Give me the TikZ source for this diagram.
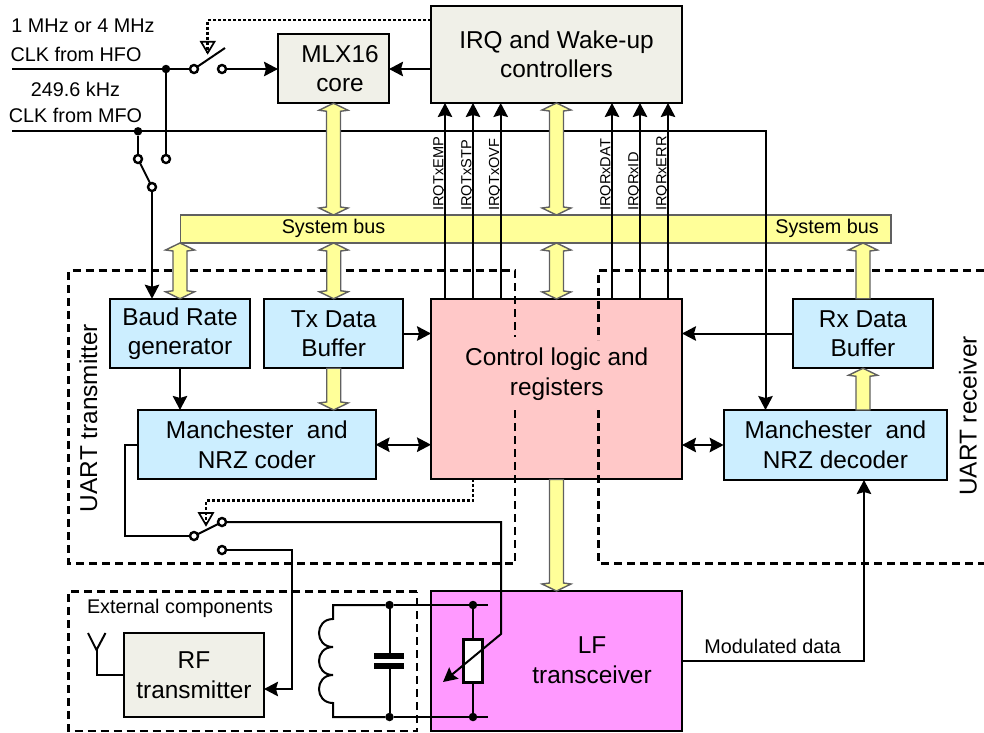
\documentclass[tikz,border=0pt]{standalone}
\usepackage{fontspec}
\setmainfont{Liberation Sans}
\usetikzlibrary{arrows.meta,calc}
\definecolor{boxgrey}{HTML}{F0F0E8}
\definecolor{boxblue}{HTML}{CCEEFF}
\definecolor{boxred}{HTML}{FFC8C8}
\definecolor{boxpink}{HTML}{FF99FF}
\definecolor{busyellow}{HTML}{FFFF99}
\definecolor{busedge}{HTML}{606060}
\tikzset{
  big/.style={font=\fontsize{24.4}{29.5}\selectfont,align=center},
  small/.style={font=\fontsize{19.8}{24}\selectfont},
  tiny/.style={font=\fontsize{14.6}{17}\selectfont},
  block/.style={draw=black,line width=2pt,inner sep=0pt,outer sep=0pt,rectangle,big},
  greybox/.style={block,fill=boxgrey},
  bluebox/.style={block,fill=boxblue},
  redbox/.style={block,fill=boxred},
  pinkbox/.style={block,fill=boxpink},
  wire/.style={draw=black,line width=2pt,line join=miter},
  arr/.style={wire,-{Stealth[length=14pt,width=14.5pt,inset=2pt]}},
  darr/.style={wire,{Stealth[length=14pt,width=14.5pt,inset=2pt]}-{Stealth[length=14pt,width=14.5pt,inset=2pt]}},
  contact/.style={circle,draw=black,fill=white,line width=2.4pt,minimum size=8pt,inner sep=0pt,outer sep=0pt},
  jdot/.style={circle,fill=black,minimum size=8.5pt,inner sep=0pt,outer sep=0pt},
  dotwire/.style={draw=black,line width=2.8pt,dash pattern=on 2.8pt off 2.2pt},
  dashwire/.style={draw=black,line width=2.8pt,dash pattern=on 8pt off 5pt},
  busfill/.style={draw=busedge,fill=busyellow,line width=1.4pt,line join=miter},
  irq/.style={tiny,rotate=90,anchor=base west,inner sep=0pt},
}
% yellow bus arrows: #1 top point, #2 bottom point
\newcommand\busboth[2]{\path[busfill] let \p1=#1, \p2=#2 in
  (\x1,\y1) -- ++(14.5pt,-7pt) -- ++(-7.5pt,-1pt) -- (\x2+7pt,\y2+8pt) -- (\x2+14.5pt,\y2+7pt) -- (\x2,\y2)
  -- (\x2-14.5pt,\y2+7pt) -- (\x2-7pt,\y2+8pt) -- (\x1-7pt,\y1-8pt) -- (\x1-14.5pt,\y1-7pt) -- cycle;}
\newcommand\busup[2]{\path[busfill] let \p1=#1, \p2=#2 in
  (\x1,\y1) -- ++(14.5pt,-7pt) -- ++(-7.5pt,-1pt) -- (\x2+7pt,\y2) -- (\x2-7pt,\y2) -- (\x1-7pt,\y1-8pt) -- (\x1-14.5pt,\y1-7pt) -- cycle;}
\newcommand\busdown[2]{\path[busfill] let \p1=#1, \p2=#2 in
  (\x1+7pt,\y1) -- (\x2+7pt,\y2+8pt) -- (\x2+14.5pt,\y2+7pt) -- (\x2,\y2) -- (\x2-14.5pt,\y2+7pt) -- (\x2-7pt,\y2+8pt) -- (\x1-7pt,\y1) -- cycle;}
\begin{document}
\begin{tikzpicture}[x=1pt,y=-1pt]
\useasboundingbox (0,0) rectangle (984,732);
% blocks
\node[greybox,minimum width=251pt,minimum height=97pt] (irqc) at (556.5,54.5) {IRQ and Wake-up\\controllers};
\node[greybox,minimum width=111pt,minimum height=69.5pt] (mlx) at (333.5,68.5) {};
\node[big] (mlxt) at (340,68.5) {MLX16\\core};
\node[draw=busedge,fill=busyellow,line width=1.4pt,inner sep=0pt,outer sep=0pt,minimum width=710.5pt,minimum height=28pt] (bus) at (535.75,229) {};
\node[small] (busa) at (333.5,228) {System bus};
\node[small] (busb) at (827,228) {System bus};
\node[bluebox,minimum width=140pt,minimum height=69.5pt] (baud) at (180,333.5) {Baud Rate\\generator};
\node[bluebox,minimum width=139.5pt,minimum height=69.5pt] (txb) at (333.7,333.5) {Tx Data\\Buffer};
\node[bluebox,minimum width=237.5pt,minimum height=69.5pt] (coder) at (256.8,444.7) {Manchester\ \ and\\NRZ coder};
\node[redbox,minimum width=251pt,minimum height=180.5pt] (ctrl) at (556.5,389.2) {};
\node[big] (ctrlt) at (556.7,374) {Control logic and\\registers};
\node[bluebox,minimum width=140pt,minimum height=69.5pt] (rxb) at (863,333.5) {Rx Data\\Buffer};
\node[bluebox,minimum width=223.5pt,minimum height=70pt] (dec) at (835.4,445) {Manchester\ \ and\\NRZ decoder};
\node[pinkbox,minimum width=251pt,minimum height=140pt] (lf) at (556.5,661) {};
\node[big] (lft) at (592,660) {LF\\transceiver};
\node[greybox,minimum width=140pt,minimum height=84pt] (rf) at (194,675) {RF\\transmitter};
\node[draw=black,fill=white,line width=3pt,inner sep=0pt,outer sep=0pt,minimum width=19pt,minimum height=43pt] (res) at (473,660.5) {};
% text labels
\node[small,anchor=base] (t1) at (83,32.7) {1 MHz or 4 MHz};
\node[small,anchor=base] (t2) at (76,61) {CLK from HFO};
\node[small,anchor=base] (t3) at (75.5,96) {249.6 kHz};
\node[small,anchor=base] (t4) at (75.5,122.7) {CLK from MFO};
\node[small,anchor=base] (t5) at (180,613) {External components};
\node[small,anchor=base] (t6) at (772.7,653) {Modulated data};
\node[big,rotate=90,anchor=base] (t7) at (97,418) {UART transmitter};
\node[big,rotate=90,anchor=base] (t8) at (976.7,416) {UART receiver};
\node[irq] (q1) at (443.3,211) {IRQTxEMP};
\node[irq] (q2) at (471.3,211) {IRQTxSTP};
\node[irq] (q3) at (499,211) {IRQTxOVF};
\node[irq] (q4) at (610.3,211) {IRQRxDAT};
\node[irq] (q5) at (638.3,211) {IRQRxID};
\node[irq] (q6) at (666.3,211) {IRQRxERR};
% switches and junctions
\node[jdot] (jhfo) at (166,69) {};
\node[jdot] (jmfo) at (138,131.3) {};
\node[contact] (s1a) at (194,69) {};
\node[contact] (s1b) at (222,69) {};
\node[contact] (s2a) at (138,159) {};
\node[contact] (s2b) at (166,159) {};
\node[contact] (s2c) at (152,187) {};
\node[contact] (s3a) at (194,536) {};
\node[contact] (s3b) at (222,522) {};
\node[contact] (s3c) at (222,550) {};
\coordinate (hfo) at (12,69);
\coordinate (mfo) at (12,131.3);
\coordinate (bladeA) at (225,48);
\coordinate (apexA) at (207.7,53);
\coordinate (apexB) at (206,525);
% dashed enclosures
\draw[dashwire] (515,410) -- (515,563.5) -- (68.5,563.5) -- (68.5,270.5) -- (515,270.5) -- (515,337);
\draw[dashwire] (984,270.5) -- (598.5,270.5) -- (598.5,340);
\draw[dashwire] (598.5,410) -- (598.5,563.5) -- (984,563.5);
\draw[dashwire] (417,591.5) -- (68.5,591.5) -- (68.5,731) -- (417,731) -- cycle;
% clock wires
\draw[wire] (hfo) -- (jhfo);
\draw[wire] (jhfo) -- (s1a);
\draw[wire] (s1a) -- (bladeA);
\draw[arr] (s1b) -- (mlx.west |- s1b);
\draw[wire] (jhfo) -- (s2b);
\draw[wire] (mfo) -- (jmfo);
\coordinate (dectop) at (765.5,410);
\draw[arr] (jmfo) -- (jmfo -| dectop) -- (dectop);
\draw[wire] (jmfo) -- (s2a);
\draw[wire] (s2a) -- (s2c);
\coordinate (baudin) at (152,298.7);
\draw[arr] (s2c) -- (baudin);
\draw[arr] (irqc.west |- s1b) -- (mlx.east |- s1b);
% IRQ lines
\foreach \xx in {445,473,500.7,612,640,668}{
  \draw[arr] (\xx,299) -- (\xx,103);
}
% dotted controls
\draw[dotwire] (irqc.west |- 0,20) -- (207.7,20) -- (apexA);
\draw[draw=black,line width=1.7pt,line join=miter] (201,41.7) -- (214.5,41.7) -- (apexA) -- cycle;
\draw[dotwire] (473,479) -- (473,500.5) -- (206,500.5) -- (apexB);
\draw[draw=black,line width=1.7pt,line join=miter] (199,513) -- (213,513) -- (apexB) -- cycle;
% block connectors
\draw[arr] (txb.east) -- (ctrl.west |- txb.east);
\draw[arr] (baud.south) -- (baud.south |- coder.north);
\draw[darr] (coder.east) -- (ctrl.west |- coder.east);
\draw[arr] (rxb.west) -- (ctrl.east |- rxb.west);
\draw[darr] (ctrl.east |- dec.west) -- (dec.west);
\coordinate (decin) at (864,480);
\draw[arr] (lf.east |- 0,661) -- (864,661) -- (decin);
\draw[wire] (coder.west) -- (125,444.7) -- (125,536) -- (s3a);
\draw[wire] (s3a) -- (s3b);
\draw[arr] (s3c) -- (292,550) -- (292,689) -- (rf.east |- 0,689);
% antenna
\draw[wire] (rf.west) -- (96.5,675) -- (96.5,650);
\draw[wire] (88,633) -- (96.5,650) -- (105.5,633);
% resonant circuit
\node[jdot] (ja) at (389.5,605) {};
\node[jdot] (jb) at (389.5,717) {};
\node[jdot] (jc) at (473,605) {};
\node[jdot] (jd) at (473,717) {};
\coordinate (rtop) at (488,605);
\coordinate (rbot) at (488,717);
\draw[wire] (ja) -- (jc);
\draw[wire] (jc) -- (rtop);
\draw[wire] (jb) -- (jd);
\draw[wire] (jd) -- (rbot);
\draw[wire] (jc) -- (res.north);
\draw[wire] (res.south) -- (jd);
\draw[wire] (ja) -- (333,605) -- (333,619)
  .. controls (314.3,619) and (314.3,647) .. (333,647)
  .. controls (314.3,647) and (314.3,675) .. (333,675)
  .. controls (314.3,675) and (314.3,703) .. (333,703)
  -- (333,717) -- (jb);
\coordinate (capa) at (389.5,656);
\coordinate (capb) at (389.5,666);
\draw[wire] (ja) -- (capa);
\draw[wire] (capb) -- (jb);
\draw[draw=black,line width=5.5pt] (374,656) -- (404,656);
\draw[draw=black,line width=5.5pt] (374,666) -- (404,666);
\coordinate (varend) at (443,682);
\draw[arr] (s3b) -- (501,522) -- (501,634) -- (varend);
% yellow bus arrows
\busboth{(mlx.south)}{(mlx.south |- bus.north)}
\busboth{(irqc.south)}{(irqc.south |- bus.north)}
\busboth{(ctrl.north |- bus.south)}{(ctrl.north)}
\busboth{(baud.north |- bus.south)}{(baud.north)}
\busboth{(txb.north |- bus.south)}{(txb.north)}
\busdown{(txb.south)}{(txb.south |- coder.north)}
\busdown{(ctrl.south)}{(lf.north)}
\busup{(rxb.north |- bus.south)}{(rxb.north)}
\busup{(rxb.south)}{(rxb.south |- dec.north)}
\end{tikzpicture}
\end{document}
